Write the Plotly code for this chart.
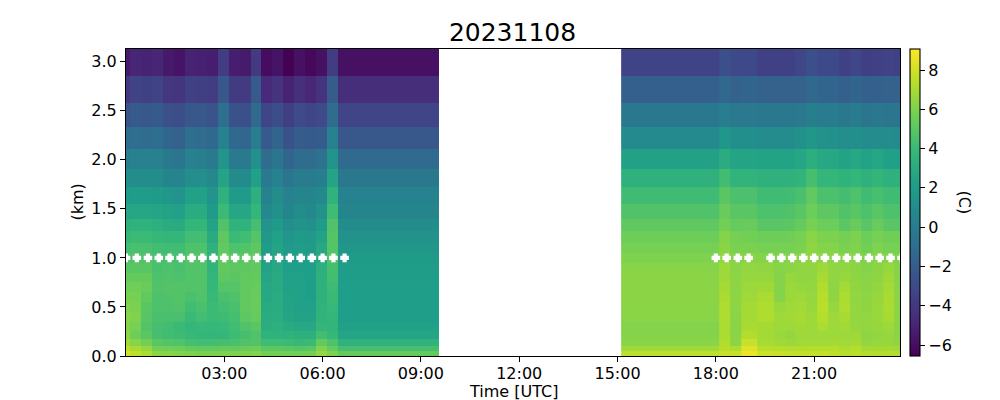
import plotly.graph_objects as go

# Heights (km) of the cell edges, top to bottom
height_edges = [3.13, 2.85, 2.58, 2.33, 2.11, 1.91, 1.72, 1.55, 1.40, 1.27, 1.15, 1.05,
                0.95, 0.85, 0.75, 0.65, 0.55, 0.45, 0.35, 0.25, 0.17, 0.10, 0.05, 0.0]
# Time edges (hours UTC)
time_edges_am = [0.0, 0.13, 0.47, 0.8, 1.13, 1.47, 1.8, 2.13, 2.47, 2.8, 3.13, 3.47, 3.8,
                 4.13, 4.47, 4.8, 5.13, 5.47, 5.8, 6.13, 6.47, 9.54]
time_edges_pm = [15.11, 18.1, 18.43, 18.77, 19.27, 19.77, 20.1, 20.43, 20.77, 21.1, 21.43,
                 21.77, 22.1, 22.43, 22.77, 23.1, 23.43, 23.62]

temp_am = [
    [-5.5,-4.9,-5.05,-4.9,-5.5,-5.7,-5.05,-5.15,-5.25,-3.7,-5.25,-5.4,-3.8,-6.05,-5.7,-6.5,-5.85,-6.25,-5.85,-3.7,-5.85],
    [-3.95,-3.4,-3.5,-3.4,-4.05,-4.15,-3.5,-3.6,-3.7,-2.3,-3.8,-3.8,-2.15,-4.7,-4.25,-5.05,-4.4,-4.85,-4.25,-2.05,-4.5],
    [-2.6,-2.15,-2.25,-2.15,-2.7,-2.8,-2.25,-2.25,-2.5,-0.95,-2.6,-2.7,-1.15,-3.25,-2.8,-3.6,-3.05,-3.25,-3.05,-1.05,-3.3],
    [-1.05,-0.95,-1.05,-0.95,-1.5,-1.7,-0.95,-1.05,-1.25,0.3,-1.25,-1.4,0.05,-2.15,-1.5,-2.6,-2.05,-2.15,-1.95,0.3,-2.3],
    [0.2,0.3,0.3,0.3,-0.25,-0.4,0.3,0.2,-0.15,1.5,-0.15,-0.15,1.3,-1.05,-0.5,-1.5,-1.05,-1.05,-0.7,1.5,-1.2],
    [1.05,1.05,1.05,1.05,0.6,0.5,1.15,1.15,0.75,2.5,0.95,0.95,2.3,-0.15,0.4,-0.5,-0.05,-0.05,0.15,2.5,-0.3],
    [1.95,2.05,2.05,1.95,1.6,1.5,2.3,2.3,1.5,3.4,1.95,1.85,3.3,0.4,1.05,0.3,0.6,0.6,0.85,3.5,0.4],
    [2.7,2.7,2.7,2.6,2.4,2.3,3.05,3.05,1.95,4.05,2.7,2.7,3.75,0.85,1.3,0.6,1.05,0.85,1.4,4.15,0.6],
    [3.3,3.5,3.5,3.3,3.05,2.95,3.75,3.75,2.4,4.7,3.5,3.5,4.4,1.5,1.85,1.15,1.5,1.3,1.95,4.7,1.05],
    [3.85,4.05,4.05,3.85,3.75,3.75,4.3,4.3,2.95,5.1,4.05,4.2,4.85,1.75,2.3,1.6,1.95,1.75,2.4,4.85,1.4],
    [4.3,4.5,4.5,4.3,4.2,4.2,4.6,4.6,3.4,5.2,4.6,4.75,5.1,2.05,2.5,1.85,2.05,1.95,2.75,4.85,1.7],
    [4.7,4.7,4.7,4.5,4.5,4.4,4.8,4.8,3.5,5.3,5.0,5.0,5.2,2.2,2.75,2.05,2.2,2.2,2.85,4.85,1.95],
    [4.95,5.0,5.0,4.5,4.6,4.5,4.75,4.75,3.6,5.2,5.1,5.1,5.2,2.4,2.85,2.15,2.15,2.15,3.3,4.4,2.05],
    [5.3,5.3,5.3,4.6,4.7,4.6,4.75,4.75,3.75,5.1,5.0,5.2,5.3,2.6,2.95,2.3,2.3,2.15,3.4,4.3,2.05],
    [5.6,5.6,5.4,4.7,4.8,4.8,4.75,4.75,3.85,4.85,4.85,5.2,5.35,2.75,2.95,2.3,2.3,2.15,3.4,4.1,2.15],
    [5.85,5.8,5.2,4.6,4.7,4.8,4.5,4.7,3.95,4.5,4.65,5.2,5.4,2.85,3.05,2.4,2.3,2.15,3.4,4.0,2.15],
    [6.0,5.9,5.0,4.6,4.6,4.7,4.2,4.5,4.05,4.3,4.5,5.2,5.4,2.95,3.05,2.5,2.3,2.3,3.5,3.9,2.15],
    [6.2,6.0,4.9,4.5,4.5,4.5,4.0,4.3,4.05,4.1,4.4,5.1,5.35,3.05,3.2,2.6,2.4,2.4,3.6,3.8,2.15],
    [6.1,5.8,4.75,4.4,4.2,4.0,3.8,3.9,3.85,3.9,4.2,4.7,5.0,3.2,3.3,2.95,2.75,2.75,3.75,3.7,2.3],
    [6.4,5.5,5.0,4.4,4.2,4.1,3.9,3.8,3.75,3.8,4.1,4.4,4.7,3.5,3.5,3.4,3.3,3.3,4.3,3.85,2.6],
    [6.8,6.2,5.7,5.0,4.8,4.7,4.4,4.3,4.3,4.4,4.5,4.7,4.8,4.15,4.15,4.05,3.95,4.05,5.3,4.6,3.5],
    [7.5,7.0,6.6,5.7,5.6,5.5,5.3,5.2,5.2,5.3,5.3,5.4,5.5,5.05,5.05,4.95,4.85,4.95,6.05,5.3,4.4],
    [8.0,7.5,7.1,6.3,6.2,6.05,5.95,5.85,5.85,5.95,5.95,5.95,6.05,5.7,5.7,5.7,5.6,5.7,6.5,5.95,5.3],
]

temp_pm = [
    [-3.4,-2.7,-3.1,-3.1,-3.5,-3.5,-3.5,-3.2,-2.7,-3.1,-3.1,-3.5,-3.2,-3.6,-3.5,-3.4,-3.5],
    [-1.8,-1.3,-1.7,-1.5,-1.7,-1.7,-1.7,-1.7,-1.3,-1.5,-1.5,-1.8,-1.5,-1.8,-1.8,-1.7,-1.7],
    [-0.3,0.1,-0.2,-0.2,-0.3,-0.3,-0.3,-0.2,0.2,-0.1,-0.1,-0.3,-0.1,-0.4,-0.3,-0.4,-0.4],
    [0.9,1.6,1.2,1.2,1.0,1.0,1.0,1.3,1.7,1.4,1.3,1.1,1.2,1.0,1.0,1.0,0.9],
    [2.35,3.05,2.55,2.55,2.45,2.45,2.45,2.65,3.25,2.75,2.75,2.45,2.75,2.45,2.65,2.25,2.25],
    [3.4,4.2,3.6,3.6,3.4,3.4,3.4,3.6,4.4,3.8,3.8,3.5,3.8,3.4,3.7,3.4,3.4],
    [4.15,5.0,4.55,4.55,4.15,4.15,4.25,4.5,5.2,4.55,4.55,4.35,4.6,4.15,4.45,4.15,4.15],
    [4.7,5.4,5.0,5.0,4.6,4.6,4.7,5.0,5.5,5.1,5.1,4.7,5.0,4.6,5.0,4.6,4.6],
    [5.15,5.7,5.35,5.4,4.95,4.95,5.05,5.35,5.8,5.5,5.5,5.05,5.4,4.95,5.4,4.95,4.95],
    [5.55,6.1,5.75,5.7,5.55,5.55,5.65,5.8,6.3,5.95,5.95,5.75,5.95,5.55,5.8,5.65,5.65],
    [5.8,6.3,5.9,5.9,5.8,5.8,5.8,5.9,6.4,6.1,6.1,5.9,6.0,5.7,6.0,5.8,5.8],
    [6.0,6.5,6.1,6.2,6.1,6.0,6.1,6.2,6.4,6.35,6.3,6.2,6.2,6.0,6.2,6.1,6.0],
    [6.2,6.75,6.3,6.5,6.45,6.2,6.3,6.45,6.45,6.8,6.45,6.45,6.3,6.15,6.3,6.6,6.15],
    [6.3,6.8,6.35,6.6,6.6,6.15,6.6,6.45,6.45,7.0,6.45,6.6,6.4,6.25,6.4,6.8,6.15],
    [6.3,6.95,6.35,6.7,6.8,6.15,6.7,6.55,6.5,7.2,6.4,6.9,6.45,6.25,6.5,6.9,6.25],
    [6.3,7.05,6.35,6.8,7.05,6.15,6.7,6.8,6.55,7.35,6.4,7.1,6.5,6.35,6.6,7.05,6.25],
    [6.3,7.15,6.35,6.9,7.15,6.65,6.75,6.9,6.65,7.45,6.6,7.15,6.5,6.4,6.65,7.05,6.3],
    [6.25,7.15,6.3,6.95,7.15,6.75,6.85,7.0,6.75,7.3,6.75,7.0,6.5,6.5,6.65,7.0,6.3],
    [6.15,7.1,6.3,7.0,6.95,6.75,6.75,6.85,6.75,7.1,6.75,6.85,6.6,6.5,6.6,6.75,6.3],
    [6.15,7.1,6.3,7.2,6.9,6.7,6.5,6.75,6.75,6.75,6.75,6.75,6.75,6.4,6.5,6.6,6.3],
    [6.25,7.2,6.3,7.8,7.0,6.85,6.7,6.85,6.85,6.85,6.95,6.85,6.95,6.5,6.6,6.6,6.4],
    [6.8,7.4,7.1,8.3,7.4,7.3,7.2,7.2,7.3,7.3,7.3,7.1,7.3,6.95,6.95,6.95,6.85],
    [7.5,7.8,7.7,8.6,7.9,7.8,7.7,7.7,7.7,7.7,7.6,7.4,7.5,7.3,7.2,7.2,7.2],
]

# Times of the white markers, all at 1 km
marker_times = [0.0, 0.33, 0.67, 1.0, 1.33, 1.67, 2.0, 2.33, 2.67, 3.0, 3.33, 3.67, 4.0,
                4.33, 4.67, 5.0, 5.33, 5.67, 6.0, 6.33, 6.67,
                18.0, 18.33, 18.67, 19.0, 19.67, 20.0, 20.33, 20.67, 21.0, 21.33, 21.67,
                22.0, 22.33, 22.67, 23.0, 23.33, 23.67]
marker_heights = [1.0] * len(marker_times)

tick_hours = [3, 6, 9, 12, 15, 18, 21]
tick_labels = ["03:00", "06:00", "09:00", "12:00", "15:00", "18:00", "21:00"]
cbar_ticks = [-6, -4, -2, 0, 2, 4, 6, 8]

FONT = "DejaVu Sans"
fig = go.Figure()
fig.add_trace(go.Heatmap(x=time_edges_am, y=height_edges[::-1], z=temp_am[::-1],
                         coloraxis="coloraxis", hoverongaps=False))
fig.add_trace(go.Heatmap(x=time_edges_pm, y=height_edges[::-1], z=temp_pm[::-1],
                         coloraxis="coloraxis", hoverongaps=False))
fig.add_trace(go.Scatter(x=marker_times, y=marker_heights, mode="markers",
                         marker=dict(symbol="cross", size=5.5, color="white",
                                     line=dict(width=2, color="white")),
                         showlegend=False))

axis_common = dict(showgrid=False, zeroline=False, showline=True, linecolor="black", linewidth=1.1,
                   mirror=True, ticks="outside", ticklen=5, tickwidth=1.1, tickcolor="black",
                   automargin=False,
                   tickfont=dict(size=16, color="black", family=FONT))
label_font = dict(size=16, color="black", family=FONT)
fig.update_layout(
    width=1000, height=400, margin=dict(l=125.5, r=99.5, t=48.5, b=44, pad=0),
    paper_bgcolor="white", plot_bgcolor="white", showlegend=False,
    font=dict(family=FONT, color="black"),
    title=dict(text="20231108", font=dict(size=25, color="black", family=FONT),
               x=0.5125, xanchor="center", y=0.92, yanchor="middle"),
    xaxis=dict(range=[0.0, 23.62], tickvals=tick_hours, ticktext=tick_labels,
               ticklabelstandoff=-2, **axis_common),
    yaxis=dict(range=[0, 3.13], tickvals=[0, 0.5, 1, 1.5, 2, 2.5, 3], tickformat=".1f",
               **axis_common),
    coloraxis=dict(
        colorscale="Viridis", cmin=-6.56, cmax=9.07,
        colorbar=dict(x=1.0129, xanchor="left", xpad=0, y=0, yanchor="bottom", ypad=0, len=1,
                      thickness=10, outlinecolor="black", outlinewidth=1.1,
                      tickvals=cbar_ticks, ticks="outside", ticklen=5, tickwidth=1.1, tickcolor="black",
                      tickfont=dict(size=16, color="black", family=FONT)),
    ),
    annotations=[
        dict(text="(C)", xref="paper", yref="paper", x=1.0839, y=0.5, xanchor="center",
             yanchor="middle", showarrow=False, textangle=90, font=label_font),
        dict(text="Time [UTC]", xref="paper", yref="paper", x=0.5, y=-0.1169, xanchor="center",
             yanchor="middle", showarrow=False, font=label_font),
        dict(text="(km)", xref="paper", yref="paper", x=-0.0632, y=0.5, xanchor="center",
             yanchor="middle", showarrow=False, textangle=-90, font=label_font),
    ],
)
fig.write_html("out.html", config={"displayModeBar": False},
               post_script="document.body.style.margin='0';")
